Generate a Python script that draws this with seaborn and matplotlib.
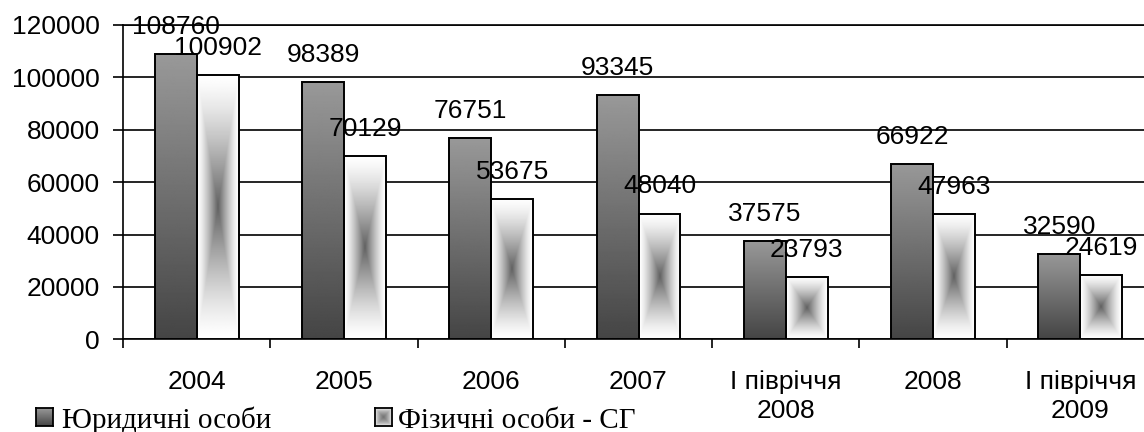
import numpy as np
import pandas as pd
import seaborn as sns
import matplotlib.pyplot as plt
from matplotlib.ticker import MultipleLocator

# data
periods = ['2004', '2005', '2006', '2007', 'І півріччя\n2008', '2008', 'І півріччя\n2009']
legal = [108760, 98389, 76751, 93345, 37575, 66922, 32590]
individual = [100902, 70129, 53675, 48040, 23793, 47963, 24619]
series = ['Юридичні особи', 'Фізичні особи - СГ']

df = pd.DataFrame({
    'period': periods * 2,
    'value': legal + individual,
    'series': [series[0]] * len(periods) + [series[1]] * len(periods),
})

sns.set_style('ticks', rc={'axes.edgecolor': 'black', 'text.color': 'black',
                           'xtick.color': 'black', 'ytick.color': 'black'})
plt.rcParams['font.family'] = ['Liberation Sans', 'DejaVu Sans']


def vert_grad(top=0.60, bottom=0.27):
    g = np.linspace(top, bottom, 256)[:, None]
    return np.repeat(g, 2, axis=1)


def box_grad(w=64, h=256, center=0.38, power=1.35):
    xx = np.linspace(-1, 1, w)
    yy = np.linspace(-1, 1, h)
    t = np.maximum(np.abs(xx)[None, :], np.abs(yy)[:, None])
    return 1 - (1 - center) * (1 - t) ** power


fig = plt.figure(figsize=(11.44, 4.32), dpi=100)
ax = fig.add_axes([123 / 1144, 92.6 / 432, 1031 / 1144, 314.4 / 432])

sns.barplot(data=df, x='period', y='value', hue='series', order=periods,
            hue_order=series, width=0.57, gap=0, errorbar=None, legend=False,
            palette=['#777777', '#cccccc'], saturation=1, ax=ax)

# gradient fills clipped to each bar
for i, cont in enumerate(ax.containers):
    for bar in cont:
        x0, w, h = bar.get_x(), bar.get_width(), bar.get_height()
        grad = vert_grad() if i == 0 else box_grad()
        im = ax.imshow(grad, cmap='gray', vmin=0, vmax=1, aspect='auto',
                       extent=[x0, x0 + w, 0, h], interpolation='bilinear', zorder=3)
        im.set_clip_path(bar)
        bar.set_facecolor('none')
        bar.set_edgecolor('black')
        bar.set_linewidth(1.4)
        bar.set_zorder(4)

for cont, vals in zip(ax.containers, [legal, individual]):
    for bar, v in zip(cont, vals):
        ax.annotate(f'{v}', (bar.get_x() + bar.get_width() / 2, v),
                    xytext=(0, 19.5), textcoords='offset points',
                    ha='center', va='center', fontsize=19, zorder=6)

ax.set_xlim(-0.5, 6.5)
ax.set_ylim(0, 120000)
ax.set_xlabel('')
ax.set_ylabel('')

ax.yaxis.set_major_locator(MultipleLocator(20000))
ax.tick_params(axis='y', length=7.2, width=1.2, pad=9.4, labelsize=19, left=True)
ax.set_xticks(range(len(periods)))
ax.set_xticklabels(periods, linespacing=1.27)
ax.tick_params(axis='x', which='major', length=0, pad=22, labelsize=19)
ax.set_xticks(np.arange(-0.5, len(periods), 1), minor=True)
ax.tick_params(axis='x', which='minor', length=6.5, width=1.2, bottom=True)

ax.grid(axis='y', color='black', linewidth=1.2)
ax.set_axisbelow(True)
ax.spines['right'].set_visible(False)
for s in ['left', 'bottom', 'top']:
    ax.spines[s].set_linewidth(1.2)

# legend drawn by hand: gradient squares plus serif labels
for x0, tx, label, grad in [(36, 62, series[0], vert_grad()),
                            (375, 398, series[1], box_grad(32, 32, 0.45, 0.6))]:
    lax = fig.add_axes([x0 / 1144, 6 / 432, 17 / 1144, 18 / 432])
    lax.imshow(grad, cmap='gray', vmin=0, vmax=1, aspect='auto', interpolation='bilinear')
    lax.set_xticks([])
    lax.set_yticks([])
    for s in lax.spines.values():
        s.set_visible(True)
        s.set_linewidth(1.3)
        s.set_color('black')
    fig.text(tx / 1144, 4 / 432, label, fontsize=21, va='baseline',
             family=['Liberation Serif', 'DejaVu Serif'])

fig.savefig('out.png', dpi=100)
